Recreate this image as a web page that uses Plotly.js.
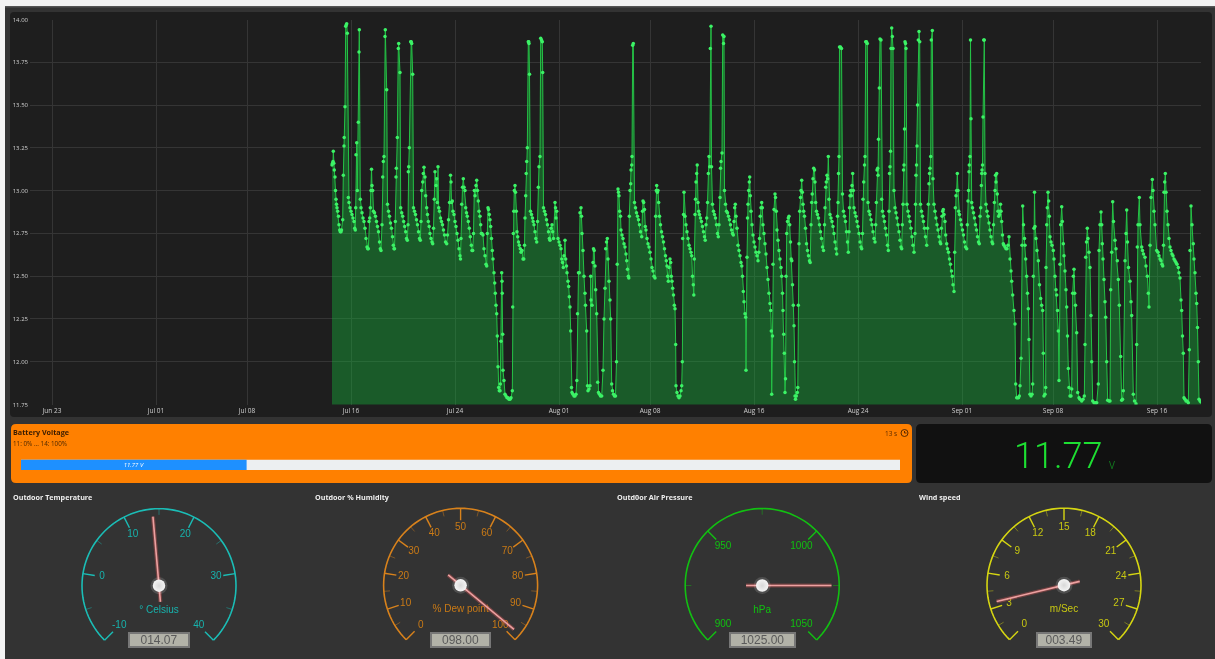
<!DOCTYPE html>
<html><head><meta charset="utf-8">
<script src="https://cdn.plot.ly/plotly-3.0.1.min.js"></script>
<style>html,body{margin:0;padding:0;background:#333;overflow:hidden;width:1215px;height:659px}#g{width:1215px;height:700px;filter:blur(0.35px)}</style>
</head><body><div id="g"></div>
<script>
// Time is stored in steps of 1/13 day counted from 19 Jun; each inner list is one stretch of the record.
const stepsPerDay = 13;
const epochDay = Date.UTC(2021, 5, 19);
const segTimes = [
[332,332.5,333,333.3,333.8,334.3,335,335.5,336,336.5,337,337.7,338.5,339,339.7,340.3,341,341.5],
[342.7,343.3,344,344.2,345,345.7,346.3,346.7,347.3,348.3,349,350,351,352,353,354,354.7,355.3],
[355.7,356,356.7,357.3,358.3,359,359.3,360.3,361,362,363,364,365,366,367,367.7,368.3],
[369,369.7,370.3,371,371.5,372,372.7,373.5,374.5,375.5,376.5,377.5,378.5,379.5,380.3,381],
[382,382.7,383.3,384,385,385.3,386.7,387.5,388.5,389.5,390.5,391.5,392.5,393.3,394,394.5],
[395.3,396,396.3,397.3,398.3,398.7,400,400.7,401.7,402.7,403.7,404.7,405.7,406.5,407.3],
[408,408.3,408.7,409.3,410.7,411.2,411.7,412.7,413.5,414.5,415.5,416.5,417.5,418.5,419.5,420.3],
[421,421.7,422.7,423.3,424,425,425.7,426.7,427.5,428.3,429.2,430,431,432,432.7],
[433.5,434.3,435,436,436.7,437.3,438,438.7,439.5,440.5,441.5,442.5,443.5,444.5,445.5,446.7],
[447.5,448.5,449.5,450.5,451,451.5,452.3,453,454,455,456,457,458,459,460,460.5],
[461,461.7,462.5,463.3,464,465,465.7,466.5,467.3,468.3,469.3,470.3,471.3,472,472.7],
[473.5,474.3,475,476,476.7,477.5,478.3,479,480,480.7,481.3,482,483,484,485,486,486.7],
[487.3,488,488.5,489.3,490,490.7,491.5,492.3,493,494,494.7,495.3,496,496.7,497.3,498,498.7,499.3],
[500,500.3,501,501.7,502,502.2,502.7,503,504],
[505,506,507,508,509,510,511,512.3,512.7,513.3],
[513.8,514.3,515,515.5,516.3,517,517.7,518.5,519.3,520.3,521,522,523,523.8,524.5],
[525,525.7,526.2,526.7,527.3,528.3,528.7,529,529.5,530.5,531.5,532.5,533.2,534,535,535.8,536.7],
[537.5,538.3,539,540,540.7,541.5,542.3,542.7,543.5,544.5,545.5,546.5,547.5,548.5,549.3,550],
[551,552,552.7,553.5,555,555.5,556,556.7,558,559,560,561,561.7,562.5,563.3,564,565,565.7,566.5,567,568,568.7],
[569.3,570,570.7,571.5,572,573,574,575,576,576.8,577.5,578.5,579.3,580,581,581.5,582,583,584,585,585.5,586.7,587.5,588],
[589,590,590.7,591,592,593,593.5,594.2,595,595.7,596.7,597.7,598.5,599.5,600.5,601.7,603,604,605,605.7,606.5,607.3],
[608,609,610,610.7,611.7,612.5,613.5,614.5,615.5,616.5,617.2,618,618.5,619,619.7,620.5],
[621,622,623,624,625,626,626.7,627.5,628.3,628.8],
[629.3,630,630.7,631,631.7,632,632.7,633.3,634.5,635.5,636.5,637.5,638.5,639.5,640.5],
[641.7,642.5,643,643.7,644.5,645.3,646,647,648,649,650,651,652,653,654,655],
[655.7,656.3,656.7,657.3,658,658.7,659.5,660.5,661.5,662.5,663.5,664.5,665.5,666.3,667,667.7,668.3,669,670,670.7,671.3,672,672.7,673.5,674.3,675,675.7,676],
[677,678,679,680,681,681.7,682.3,682.7,683.5,684,685,686],
[687,688,689,690,691,691.7,692.5,693.3,693.8,694.3,695,695.5,696,696.7,697.2,698,698.7,699.5],
[700.5,701.5,702.5,703.5,704.5,705.2,706,706.7,707.5,708.3,709,709.7,710.3,711,711.5,712.5,713.5,714.5],
[715.5,716.5,717.5,718.3,719,720,720.5,721,722,722.7,723.5,724,724.5,725.5,726.5,727.5,728.5,729.5],
[730.5,731.5,732.5,733.3,734,734.7,735.3,736,737,738,739,740,741,741.8,742.5,743.3,744,745,745.7,746],
[747,747.5,748,748.7,749.3,749.7,750.3,751,752,753,754,755,756,757,758,758.8,759.5,760.2,761,761.7,762.3],
[763,764,765,766,767,768,769,770,770.7,771.3,771.7,772.5,773,774,775,775.5,776.3],
[777,778,779,780,781,781.7,782.5,783,783.7,784.3,785,785.5,786,786.7,787.5,788.3,789,789.7,790.5,791.2,791.8,792.5,793.3,794,794.5,795,795.5,796.3,797.3,797.8,798.3,799],
[799.7,800.5,801,801.7,802.3,803,803.7,804.5,805.5,806.5,807.5,808.5,809.5,810.2],
[811,811.7,812.2,813,813.7,814.5,815,815.7,816.5,817.5,818.5,819.5,820.5,821.5,822.5,823.5],
[824.5,825,825.7,826.3,827,827.7,828.3,829,830,831,832,833,834,835,836,836.7],
[837.5,838,838.5,839,839.5,840.5,841.5,842.5,843.5,844.5,845.5,846.5,847.5,848.3],
[849,849.5,850,850.7,851.3,852,852.7,853.3,854,855,856,857,858,859,860,861,861.7],
[862.5,863,863.7,864.5,865,865.7,866.5,867.3,868,869,870,871,872,873,874,875],
[875.7,876.3,877,877.7,878,878.5,879.3,880,881,881.7,882.5,883.5,884.5,885.5,886.5,887.5,888.3],
[889,889.5,890,890.5,891,891.7,892.3,893,894,895,896,897,898,899,900,901,901.7],
[902.3,903,903.5,904,904.5,905,905.5,906,907,908,909,910,911,912,913,914],
[915,915.5,916,916.5,917,917.5,918.3,919,919.7,920.5,921.5,922.5,923.5,924.5,925.5,926.7],
[927.5,928.3,929,929.5,930,930.7,931.3,932.3,933,934,935,936,937,938,939,940,940.7],
[941.3,942,942.7,943.3,944,945,945.7,946.7,947.5,948.5,949.5,950.5,951.5,952.3,953,954],
[954.7,955.3,956,956.7,957.3,958,958.7,959.5,960.5,961.5,962.5,963.5,964.5,965.5,966.7],
[967.3,968,968.5,969,969.3,970,970.5,971,971.7,972.5,973.5,974.5,975.5,976.5,977.5,978.5,979.3],
[980,980.7,981.3,981.7,982,982.5,983,983.7,984.3,985,986,987,988,989,990,991,992,992.7],
[993.5,994.3,995,995.5,996,996.7,997.3,998,998.7,999.5,1000,1000.5,1001,1001.7,1002.5,1003.3,1004,1005,1006,1007,1008,1009,1010,1011,1011.7,1012.7,1014,1015],
[1015.7,1016.7,1017.5,1018.5,1019.3,1020,1021,1022,1022.7,1023.5,1024.5,1025,1025.7,1026.7,1027.5,1028.3,1029,1030,1031,1032,1032.7,1033.3,1034,1034.5],
[1035,1036,1037,1038.3,1039.5,1040.7,1041.7,1042.7,1043.3,1044,1045,1045.7,1046,1046.7,1047.3,1048,1048.7,1049.3,1050,1051,1052,1053.3,1054,1055,1056,1056.7,1057.5,1058.3,1059],
[1060,1060.7,1061.7,1062.3,1063.3,1064,1065,1066,1066.7,1067.5,1068.3,1069,1070,1071,1071.7],
[1072.7,1073.3,1074,1074.7,1075.5,1076.7,1077.7,1079,1080,1081.7,1083,1084.3,1085,1085.7,1086.5],
[1087.3,1088,1089,1090,1091,1091.7,1092.7,1094,1095.5,1096.7,1098.3,1099,1100],
[1101,1101.7,1102.3,1103,1104,1105,1105.7,1106.7,1107.7,1109,1110,1110.7,1111.7],
[1112.7,1113.5,1115,1116,1117.3,1118.3,1119.3,1120.7,1121.7,1122.5,1123.3,1125,1126],
[1126.7,1127.5,1128.5,1130,1131,1131.7,1133.3,1134.5,1136,1136.7,1137.3,1138],
[1139.3,1140,1141.7,1142.5,1143.5,1145,1146,1147.3,1148.3,1149,1150,1151],
[1152.3,1153,1154,1155,1156.7,1158,1159,1160,1161,1162,1162.7],
[1163.5,1164,1164.7,1165.3,1166,1167,1168,1169,1170,1171,1172,1173,1174,1175,1176,1177,1178.3,1179,1180,1181,1181.7,1182.5,1183.3,1184,1185,1186,1187,1188.3,1189.3,1190],
[1191,1192,1193.3,1194,1195,1196,1196.7,1197.5,1198.3,1199,1200,1201]
];
const segVolts = [
[13.15,13.16,13.17,13.23,13.16,13.12,13.08,13.0,12.95,12.92,12.9,12.88,12.85,12.8,12.77,12.76,12.76,12.77],
[12.83,13.09,13.26,13.31,13.49,13.96,13.97,13.975,13.92,12.96,12.93,12.9,12.88,12.86,12.84,12.82,12.78,12.77],
[12.9,13.21,13.28,13.0,13.40,13.81,13.94,12.95,12.9,12.87,12.84,12.82,12.78,12.72,12.67,12.66,12.66],
[12.82,12.84,12.9,13.0,13.125,13.03,13.0,12.88,12.87,12.85,12.82,12.79,12.76,12.7,12.66,12.65],
[12.8,13.08,13.17,13.2,13.9,13.94,13.59,12.92,12.88,12.85,12.81,12.78,12.73,12.68,12.66,12.66],
[12.82,13.08,13.13,13.31,13.83,13.86,13.69,12.9,12.87,12.85,12.82,12.79,12.76,12.72,12.71],
[12.8,13.11,13.14,13.25,13.87,13.87,13.86,13.68,12.9,12.88,12.86,12.83,12.8,12.76,12.72,12.71],
[12.82,13.0,13.05,13.1,13.136,13.08,12.97,12.9,12.86,12.82,12.79,12.75,12.72,12.7,12.69],
[12.78,12.95,13.11,13.03,13.07,12.93,13.14,12.9,12.88,12.84,12.82,12.8,12.77,12.74,12.7,12.69],
[12.74,12.83,12.93,13.09,13.05,12.93,12.94,12.88,12.86,12.82,12.79,12.75,12.71,12.66,12.62,12.6],
[12.72,12.92,13.02,13.07,13.02,13.0,12.9,12.87,12.85,12.82,12.78,12.73,12.68,12.65,12.65],
[12.75,13.0,12.97,13.03,13.06,13.0,12.94,12.88,12.85,12.8,12.75,12.75,12.74,12.66,12.62,12.57,12.56],
[12.75,12.9,12.89,12.86,12.83,12.79,12.72,12.65,12.6,12.52,12.46,12.4,12.33,12.28,12.15,11.97,11.85,11.83],
[11.83,11.87,12.12,12.52,12.47,12.4,12.16,11.95,11.89],
[11.81,11.8,11.79,11.79,11.78,11.78,11.79,11.83,12.32,12.75],
[12.88,13.0,13.03,12.99,12.88,12.76,12.73,12.7,12.68,12.66,12.64,12.65,12.6,12.6,12.68],
[12.84,12.97,13.1,13.17,13.25,13.87,13.87,13.86,13.68,12.88,12.86,12.84,12.82,12.8,12.76,12.72,12.7],
[12.82,13.02,13.14,13.2,13.89,13.88,13.87,13.69,12.9,12.88,12.86,12.83,12.8,12.76,12.72,12.71],
[12.78,12.8,12.76,12.72,12.93,12.9,12.84,12.88,12.72,12.7,12.68,12.66,12.6,12.58,12.55,12.62,12.71,12.6,12.56,12.52,12.47,12.44],
[12.38,12.32,12.18,11.85,11.82,11.81,11.8,11.8,11.81,11.89,12.28,12.52,12.52,12.87,12.9,12.85,12.75,12.65,12.5,12.4,12.33,12.18,11.86,11.83],
[11.84,11.86,12.5,12.36,12.33,12.58,12.66,12.65,12.56,12.42,12.28,11.88,11.82,11.81,11.8,11.8,11.95,12.25,12.43,12.66,12.7,12.72],
[12.6,12.47,12.36,12.25,11.87,11.83,11.81,11.8,11.8,12.0,12.57,13.01,12.99,12.97,12.88,12.85],
[12.77,12.74,12.72,12.69,12.67,12.63,12.59,12.54,12.5,12.49],
[12.85,13.0,13.04,13.12,13.15,13.2,13.85,13.86,12.93,12.9,12.87,12.85,12.83,12.8,12.76],
[12.73,12.88,12.94,12.93,12.89,12.79,12.77,12.72,12.69,12.67,12.64,12.6,12.55,12.53,12.5,12.49],
[12.85,13.0,13.03,12.99,13.0,12.93,12.85,12.8,12.76,12.73,12.7,12.66,12.62,12.59,12.56,12.5,12.47,12.55,12.6,12.58,12.5,12.47,12.43,12.39,12.33,12.31,12.1,11.86],
[11.82,11.8,11.79,11.8,11.83,11.86,12.0,12.72,12.86,12.99,12.85,12.8],
[12.76,12.72,12.68,12.66,12.64,12.62,12.5,12.45,12.39,12.6,12.86,12.95,13.05,13.1,13.15,12.93,12.88,12.86],
[12.84,12.82,12.79,12.76,12.73,12.71,12.8,12.84,12.93,13.1,13.2,13.14,13.83,13.96,13.14,12.92,12.88,12.86],
[12.84,12.8,12.75,12.73,12.8,12.96,13.13,13.17,13.22,13.91,13.86,13.9,13.0,12.92,12.88,12.87,12.85,12.83],
[12.8,12.77,12.75,12.74,12.82,12.9,12.92,12.85,12.78,12.68,12.65,12.62,12.58,12.56,12.5,12.41,12.35,12.28,12.26,11.95],
[12.61,12.84,12.92,13.0,13.05,13.08,12.97,12.88,12.8,12.74,12.7,12.67,12.64,12.62,12.59,12.64,12.72,12.85,12.9,12.93,12.9],
[12.8,12.75,12.69,12.63,12.55,12.48,12.4,12.34,12.3,12.18,11.81,12.15,12.57,12.89,12.98,12.96,12.88],
[12.77,12.71,12.65,12.6,12.55,12.5,12.4,12.3,12.16,12.05,11.82,11.9,12.5,12.75,12.82,12.84,12.85,12.8,12.7,12.6,12.59,12.45,12.33,12.21,12,11.8,11.78,11.8,11.82,11.85,12.33,12.69],
[12.88,12.96,13.0,13.06,12.99,12.92,12.88,12.85,12.78,12.69,12.65,12.62,12.59,12.58],
[12.8,12.93,12.98,13.07,13.13,13.12,13.05,12.93,12.88,12.86,12.84,12.8,12.76,12.72,12.67,12.65],
[12.8,12.9,13.02,13.05,13.09,13.07,13.2,12.95,12.86,12.84,12.82,12.79,12.75,12.7,12.66,12.63],
[12.85,12.93,13.1,13.2,13.84,13.84,13.83,12.98,12.88,12.85,12.82,12.76,12.7,12.64],
[12.76,12.9,12.97,13.0,12.97,13.03,13.1,13.0,12.9,12.87,12.85,12.82,12.79,12.75,12.7,12.67,12.66],
[12.75,12.95,13.05,13.15,13.2,13.87,13.87,13.86,12.93,12.88,12.86,12.83,12.8,12.76,12.72,12.7],
[12.8,12.93,13.12,13.13,13.09,13.3,13.6,13.886,13.88,12.95,12.88,12.85,12.82,12.78,12.74,12.68,12.65],
[12.88,13.1,13.14,13.23,13.83,13.95,13.9,13.83,13.0,12.9,12.87,12.84,12.8,12.76,12.71,12.67,12.66],
[12.8,12.92,13.12,13.15,13.36,13.87,13.86,13.83,12.92,12.88,12.85,12.82,12.78,12.73,12.68,12.64],
[12.75,12.92,13.09,13.15,13.26,13.5,13.88,13.93,13.87,12.92,12.88,12.85,12.82,12.78,12.73,12.68],
[12.78,12.92,13.04,13.1,13.13,13.2,13.88,13.935,13.07,12.92,12.88,12.84,12.8,12.77,12.73,12.7,12.69],
[12.78,12.85,12.88,12.89,12.86,12.82,12.74,12.69,12.66,12.64,12.6,12.57,12.53,12.5,12.45,12.41],
[12.64,12.9,12.97,13.0,13.10,13.0,12.88,12.86,12.83,12.8,12.77,12.74,12.7,12.67,12.66],
[12.8,12.94,13.0,13.11,13.15,13.2,13.88,13.42,12.93,12.9,12.87,12.84,12.8,12.77,12.73,12.7,12.69],
[12.85,12.9,13.03,13.1,13.12,13.15,13.43,13.88,13.88,13.1,12.92,12.88,12.85,12.81,12.77,12.73,12.7,12.69],
[12.8,12.93,13.0,13.09,13.05,13.10,12.98,12.88,12.85,12.86,12.88,12.92,12.88,12.82,12.74,12.69,12.68,12.67,12.66,12.66,12.68,12.73,12.6,12.53,12.47,12.39,12.3,12.22],
[11.87,11.79,11.79,11.79,11.8,11.86,12.02,12.68,12.91,12.8,12.72,12.68,12.6,12.5,12.4,12.31,12.13,11.81,11.8,11.81,11.87,12.5,12.78,12.99],
[12.79,12.72,12.65,12.59,12.45,12.37,12.33,12.3,12.05,11.8,11.81,11.85,12.55,12.8,12.9,12.99,12.94,12.85,12.73,12.7,12.68,12.65,12.6,12.5,12.42,12.39,12.3,12.18,11.89],
[12.57,12.8,12.905,12.82,12.69,12.62,12.53,12.42,12.32,12.15,11.96,11.85,11.8,11.8,11.84],
[12.4,12.5,12.54,12.4,12.33,12.17,11.82,11.79,11.78,11.77,11.78,11.8,12.1,12.61,12.7],
[12.78,12.72,12.64,12.55,12.27,12.0,11.77,11.76,11.76,11.76,11.87,12.65,12.8],
[12.875,12.8,12.69,12.6,12.48,12.35,12.26,12.0,11.775,11.77,11.77,12.42,12.64],
[12.935,12.82,12.71,12.66,12.59,12.48,12.33,12.03,11.775,11.78,11.83,12.59,12.75],
[12.886,12.7,12.55,12.47,12.35,12.27,11.81,11.77,11.755,12.1,12.67,12.8],
[12.96,12.8,12.67,12.65,12.63,12.61,12.56,12.5,12.4,12.32,12.68,12.96],
[13.065,13.0,12.88,12.8,12.65,12.64,12.62,12.6,12.59,12.57,12.56],
[12.68,12.99,13.05,13.10,12.99,12.88,12.8,12.72,12.67,12.65,12.63,12.62,12.6,12.59,12.58,12.57,12.55,12.52,12.49,12.36,12.3,12.15,12.05,11.79,11.78,11.77,11.77,11.76,12.07,12.65],
[12.91,12.8,12.69,12.6,12.52,12.4,12.34,12.2,12.0,11.78,11.77,11.765]
];
const dateTicks = ['2021-06-23','2021-07-01','2021-07-08','2021-07-16','2021-07-24','2021-08-01','2021-08-08','2021-08-16','2021-08-24','2021-09-01','2021-09-08','2021-09-16'];
const dateLabels = ['Jun 23','Jul 01','Jul 08','Jul 16','Jul 24','Aug 01','Aug 08','Aug 16','Aug 24','Sep 01','Sep 08','Sep 16'];
const voltTicks = [11.75,12,12.25,12.5,12.75,13,13.25,13.5,13.75,14];
const voltLabels = ['11.75','12.00','12.25','12.50','12.75','13.00','13.25','13.50','13.75','14.00'];
const batteryNow = 11.77;
const batteryMin = 11, batteryMax = 14;
const gaugeNames = ['Outdoor Temperature','Outdoor % Humidity','Outd0or Air Pressure','Wind speed'];
const gaugeUnits = ['° Celsius','% Dew point','hPa','m/Sec'];
const gaugeValues = [14.07,98,1025,3.49];
const gaugeReadouts = ['014.07','098.00','1025.00','003.49'];
const gaugeMins = [-10,0,900,0];
const gaugeMaxs = [40,100,1050,30];
const gaugeMajor = [10,10,50,3];
const gaugeMinor = [5,5,25,1.5];

segTimes.forEach((s,i)=>{ if(s.length!==segVolts[i].length) throw new Error('seg '+i+': '+s.length+' vs '+segVolts[i].length); });

const W=1215,H=700;
const px=x=>x/W, py=y=>1-y/H;
const toDate=t=>new Date(epochDay+t/stepsPerDay*86400000).toISOString().slice(0,19).replace('T',' ');
const times=segTimes.flat().map(toDate), volts=segVolts.flat();

function rrect(x0,y0,x1,y1,r,fill){
  const rx=r/W, ry=r/H, a=px(x0),b=px(x1),c=py(y0),d=py(y1);
  return {type:'path',xref:'paper',yref:'paper',layer:'below',fillcolor:fill,line:{width:0},
    path:`M${a+rx},${c} L${b-rx},${c} Q${b},${c} ${b},${c-ry} L${b},${d+ry} Q${b},${d} ${b-rx},${d} L${a+rx},${d} Q${a},${d} ${a},${d+ry} L${a},${c-ry} Q${a},${c} ${a+rx},${c} Z`};
}
function rect(x0,y0,x1,y1,fill){return {type:'rect',xref:'paper',yref:'paper',layer:'below',x0:px(x0),x1:px(x1),y0:py(y0),y1:py(y1),fillcolor:fill,line:{width:0}};}

const shapes=[
  rect(0,0,1215,6,'#f3f3f3'), rect(0,0,5,659,'#f3f3f3'), rect(5,6,1215,7.5,'#555'),
  rrect(10,12,1212,417,4,'#1e1e1e'),
  rrect(11,424,912,483,5,'#ff8000'),
  rrect(916,424,1212,483,5,'#111111'),
  {type:'circle',xref:'paper',yref:'paper',x0:px(901),x1:px(908),y0:py(429.5),y1:py(436.5),line:{color:'#5a2a00',width:1},fillcolor:'rgba(0,0,0,0)'},
  {type:'line',xref:'paper',yref:'paper',x0:px(904.5),x1:px(904.5),y0:py(431),y1:py(433),line:{color:'#5a2a00',width:1}},
  {type:'line',xref:'paper',yref:'paper',x0:px(904.5),x1:px(906.5),y0:py(433),y1:py(433),line:{color:'#5a2a00',width:1}}
];
const note=(text,x,y,size,color,opt={})=>Object.assign({text,xref:'paper',yref:'paper',x:px(x),y:py(y),xanchor:'left',yanchor:'middle',showarrow:false,
  font:Object.assign({family:'Open Sans',size,color},opt.font||{})},opt.box||{},opt.anchor?{xanchor:opt.anchor}:{});
const annotations=[
  note('Battery Voltage',11,432,7.2,'#3a1c00',{font:{weight:700}}),
  note('11: 0% ... 14: 100%',11,443,6.3,'#4a2600'),
  note('13 s',899,433,6.5,'#5a2a00',{anchor:'right'}),
  note(batteryNow.toFixed(2),1058,455.5,36,'#1de032',{anchor:'center',font:{family:'Roboto',weight:300}}),
  note('V',1112,465,10,'#137a20',{anchor:'center'})
];
const data=[
  {type:'scatter',x:times,y:volts,mode:'lines+markers',fill:'tozeroy',fillcolor:'rgba(20,200,60,0.36)',
   line:{color:'#25c246',width:1},marker:{color:'#3cf266',size:3.5},hoverinfo:'skip',cliponaxis:true},
  {type:'bar',orientation:'h',xaxis:'x2',yaxis:'y2',y:['b'],x:[batteryMax-batteryMin],base:[batteryMin],marker:{color:'#eceff1',line:{width:0}},width:1,hoverinfo:'skip'},
  {type:'bar',orientation:'h',xaxis:'x2',yaxis:'y2',y:['b'],x:[batteryNow-batteryMin],base:[batteryMin],marker:{color:'#1e90ff',line:{width:0}},width:1,hoverinfo:'skip',
   text:[batteryNow.toFixed(2)+' V'],textposition:'inside',insidetextanchor:'middle',textangle:0,constraintext:'none',textfont:{family:'Open Sans',size:6,color:'#fff',style:'italic'}}
];

const layout={width:W,height:H,margin:{l:0,r:0,t:0,b:0,pad:0},paper_bgcolor:'#333333',plot_bgcolor:'rgba(0,0,0,0)',showlegend:false,barmode:'overlay',
  shapes,annotations,font:{family:'Open Sans'},
  xaxis:{type:'date',domain:[px(30),px(1201)],range:[toDate(30),toDate(1201)],tickmode:'array',tickvals:dateTicks,ticktext:dateLabels,ticklabelstandoff:1,
    showgrid:true,gridcolor:'#353535',gridwidth:1,zeroline:false,showline:false,ticks:'',tickfont:{family:'Open Sans',size:6.5,color:'#cfcfcf'},anchor:'y',tickangle:0},
  yaxis:{domain:[py(404.5),py(19.5)],range:[11.75,14],tickmode:'array',tickvals:voltTicks,ticktext:voltLabels,ticklabelstandoff:1,
    showgrid:true,gridcolor:'#353535',gridwidth:1,zeroline:false,showline:false,ticks:'',tickfont:{family:'Open Sans',size:6,color:'#cfcfcf'},anchor:'x'},
  xaxis2:{domain:[px(21),px(900)],range:[batteryMin,batteryMax],visible:false,anchor:'y2',fixedrange:true},
  yaxis2:{domain:[py(470),py(459.5)],visible:false,anchor:'x2',fixedrange:true,type:'category'}
};

// Gauges: one polar subplot each; 0 deg points up and the dial sweeps 270 deg clockwise.
const gaugeCentres=[[159,585.7],[460.6,585.3],[762.2,585.5],[1064,585.2]];
const gaugeRadius=77;
const gaugeColors=['#1bbdb6','#d8821c','#12c012','#d6d612'];
const gaugeTextColors=['#17b3ad','#c97a16','#10c010','#c8c812'];
const gaugeTitleX=[11,313,615,917];
const gaugeBoxW=[64,63,69,58];
const rangeTop=1.02;
gaugeNames.forEach((name,i)=>{
  const id=i===0?'polar':'polar'+(i+1);
  const [cx,cy]=gaugeCentres[i], half=gaugeRadius*rangeTop;
  const min=gaugeMins[i],max=gaugeMaxs[i],col=gaugeColors[i],tcol=gaugeTextColors[i];
  const ang=v=>-135+270*(v-min)/(max-min);
  layout[id]={domain:{x:[px(cx-half),px(cx+half)],y:[py(cy+half),py(cy-half)]},bgcolor:'rgba(0,0,0,0)',
    radialaxis:{visible:false,range:[0,rangeTop]},angularaxis:{visible:false,direction:'clockwise',rotation:90,thetaunit:'degrees'}};
  const base={type:'scatterpolar',subplot:id,hoverinfo:'skip',cliponaxis:false};
  const arcT=[],arcR=[];
  for(let k=0;k<=90;k++){arcT.push(-135+3*k);arcR.push(1);}
  data.push(Object.assign({},base,{mode:'lines',r:arcR,theta:arcT,line:{color:col,width:1.6}}));
  const minR=[],minT=[],majR=[],majT=[],lblR=[],lblT=[],lbl=[];
  const nMinor=Math.round((max-min)/gaugeMinor[i]);
  for(let k=0;k<=nMinor;k++){
    const v=min+k*gaugeMinor[i];
    if(k%2===0){
      majR.push(1,0.845,null);majT.push(ang(v),ang(v),null);
      lblR.push(i===2?0.72:(Math.abs(ang(v))>120?0.73:0.75));lblT.push(ang(v));lbl.push(String(v));
    } else if(k>0&&k<nMinor){minR.push(1,0.92,null);minT.push(ang(v),ang(v),null);}
  }
  data.push(Object.assign({},base,{mode:'lines',r:minR,theta:minT,line:{color:col,width:0.8},opacity:0.55,connectgaps:false}));
  data.push(Object.assign({},base,{mode:'lines',r:majR,theta:majT,line:{color:col,width:1.4},connectgaps:false}));
  data.push(Object.assign({},base,{mode:'text',r:lblR,theta:lblT,text:lbl,textfont:{family:'Liberation Sans',size:10,color:tcol},textposition:'middle center'}));
  data.push(Object.assign({},base,{mode:'text',r:[0.32],theta:[180],text:[gaugeUnits[i]],textfont:{family:'Liberation Sans',size:10,color:tcol},textposition:'middle center'}));
  const a=ang(gaugeValues[i]);
  data.push(Object.assign({},base,{mode:'lines',r:[0.21,0.9],theta:[a+180,a],line:{color:'rgba(225,90,90,0.35)',width:4}}));
  data.push(Object.assign({},base,{mode:'lines',r:[0.21,0.9],theta:[a+180,a],line:{color:'#eda0a0',width:1.6}}));
  data.push(Object.assign({},base,{mode:'markers',r:[0],theta:[0],marker:{size:17,color:'rgba(255,255,255,0.14)'}}));
  data.push(Object.assign({},base,{mode:'markers',r:[0],theta:[0],marker:{size:12.5,color:'#f4f4f4',gradient:{type:'radial',color:'#d8d8d8'}}}));
  annotations.push(note(name,gaugeTitleX[i],497,7.2,'#eeeeee',{font:{weight:700}}));
  annotations.push(note(gaugeReadouts[i],cx,640,12,'#5a5a5a',{anchor:'center',font:{family:'Liberation Sans'},
    box:{bgcolor:'#b2b2a8',bordercolor:'#777777',borderwidth:2,width:gaugeBoxW[i]-6,height:12,align:'center',valign:'middle',borderpad:0}}));
});
Plotly.newPlot('g',data,layout,{displayModeBar:false,staticPlot:true,responsive:false});
</script></body></html>
